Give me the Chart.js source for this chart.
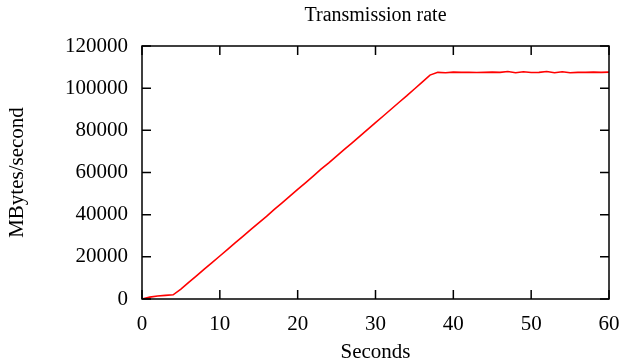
<!DOCTYPE html>
<html>
<head>
<meta charset="utf-8">
<script src="https://cdn.jsdelivr.net/npm/chart.js@4.4.1/dist/chart.umd.min.js"></script>
<style>
  html, body { margin: 0; padding: 0; background: #fff; }
  #wrap { width: 625px; height: 360px; }
</style>
</head>
<body>
<div id="wrap"><canvas id="rate-chart"></canvas></div>
<script>
// chart data
const seconds = [
    0, 1, 2, 3, 4, 5, 6, 7, 8, 9,
    10, 11, 12, 13, 14, 15, 16, 17, 18, 19,
    20, 21, 22, 23, 24, 25, 26, 27, 28, 29,
    30, 31, 32, 33, 34, 35, 36, 37, 38, 39,
    40, 41, 42, 43, 44, 45, 46, 47, 48, 49,
    50, 51, 52, 53, 54, 55, 56, 57, 58, 59, 60
];
const rates = [
    0, 900, 1400, 1700, 2000, 4700, 7900, 11000, 14200, 17300,
    20400, 23500, 26700, 29800, 33000, 36100, 39200, 42500, 45600, 48800,
    52000, 55100, 58300, 61600, 64600, 67800, 71000, 74100, 77300, 80500,
    83700, 86800, 90000, 93200, 96300, 99600, 102900, 106200, 107500, 107300,
    107600, 107500, 107500, 107400, 107500, 107600, 107500, 107900, 107300, 107800,
    107400, 107500, 107900, 107300, 107800, 107300, 107500, 107500, 107600, 107500, 107600
];
const xTicks = [0, 10, 20, 30, 40, 50, 60];
const yTicks = [0, 20000, 40000, 60000, 80000, 100000, 120000];

const serif = "'Liberation Serif', 'DejaVu Serif', serif";

// gnuplot 스타일 프레임 + 안쪽 눈금
const framePlugin = {
    id: 'frame',
    afterDraw(chart) {
        const { ctx, chartArea: a, scales: { x, y } } = chart;
        const len = 9;
        ctx.save();
        ctx.strokeStyle = '#000';
        ctx.lineWidth = 1.5;
        ctx.strokeRect(a.left, a.top, a.right - a.left, a.bottom - a.top);
        ctx.beginPath();
        xTicks.forEach(v => {
            const px = x.getPixelForValue(v);
            ctx.moveTo(px, a.bottom);
            ctx.lineTo(px, a.bottom - len);
            ctx.moveTo(px, a.top);
            ctx.lineTo(px, a.top + len);
        });
        yTicks.forEach(v => {
            const py = y.getPixelForValue(v);
            ctx.moveTo(a.left, py);
            ctx.lineTo(a.left + len, py);
            ctx.moveTo(a.right, py);
            ctx.lineTo(a.right - len, py);
        });
        ctx.stroke();
        ctx.restore();
    }
};

const ctx = document.getElementById('rate-chart').getContext('2d');
new Chart(ctx, {
    type: 'line',
    data: {
        datasets: [{
            data: seconds.map((s, i) => ({ x: s, y: rates[i] })),
            borderColor: '#ff0000',
            borderWidth: 1.6,
            pointRadius: 0,
            tension: 0,
            fill: false
        }]
    },
    options: {
        responsive: true,
        maintainAspectRatio: false,
        animation: false,
        layout: { padding: { left: 0, right: 16, top: 0, bottom: 0 } },
        plugins: {
            legend: { display: false },
            tooltip: { enabled: false },
            title: {
                display: true,
                fullSize: false,
                text: 'Transmission rate',
                color: '#000',
                font: { family: serif, size: 20, weight: 'normal' },
                padding: { top: 4, bottom: 18 }
            }
        },
        scales: {
            x: {
                type: 'linear',
                min: 0,
                max: 60,
                afterBuildTicks: scale => { scale.ticks = xTicks.map(v => ({ value: v })); },
                afterFit: scale => {
                    scale.height = 61;
                    scale.paddingLeft = 0;
                    scale.paddingRight = 0;
                },
                grid: { display: false, drawTicks: false },
                border: { display: false },
                ticks: {
                    color: '#000',
                    padding: 13,
                    maxRotation: 0,
                    font: { family: serif, size: 21 }
                },
                title: {
                    display: true,
                    text: 'Seconds',
                    color: '#000',
                    font: { family: serif, size: 21 },
                    padding: { top: 0, bottom: -5 }
                }
            },
            y: {
                min: 0,
                max: 120000,
                afterBuildTicks: scale => { scale.ticks = yTicks.map(v => ({ value: v })); },
                afterFit: scale => { scale.width = 142; },
                grid: { display: false, drawTicks: false },
                border: { display: false },
                ticks: {
                    color: '#000',
                    padding: 14,
                    font: { family: serif, size: 21 },
                    callback: v => String(v)
                },
                title: {
                    display: true,
                    text: 'MBytes/second',
                    color: '#000',
                    font: { family: serif, size: 21 },
                    padding: { top: 5, bottom: 0 }
                }
            }
        }
    },
    plugins: [framePlugin]
});
</script>
</body>
</html>
